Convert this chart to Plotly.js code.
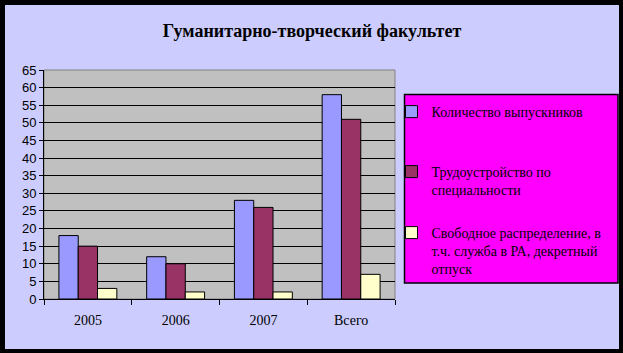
<!DOCTYPE html>
<html><head><meta charset="utf-8">
<script src="https://cdn.plot.ly/plotly-3.0.1.min.js"></script>
<style>
html,body{margin:0;padding:0;background:#000;width:623px;height:353px;overflow:hidden}
#chart{position:absolute;left:5px;top:5px;width:614px;height:344px}
</style></head>
<body><div id="chart"></div>
<script>
const categories = ['2005', '2006', '2007', 'Всего'];
const graduates = [18, 12, 28, 58];
const employed = [15, 10, 26, 51];
const freeDistribution = [3, 2, 2, 7];
const seriesNames = [
  'Количество выпускников',
  'Трудоустройство по<br>специальности',
  'Свободное распределение, в<br>т.ч. служба в РА, декретный<br>отпуск'
];
const yTicks = [0,5,10,15,20,25,30,35,40,45,50,55,60,65];

const colors = ['#9999FF', '#993366', '#FFFFCC'];
const values = [graduates, employed, freeDistribution];
const legends = ['legend', 'legend2', 'legend3'];

const traces = values.map((v, i) => ({
  type: 'bar', x: categories, y: v, name: seriesNames[i],
  marker: {color: colors[i], line: {color: '#000', width: 1}},
  legend: legends[i], hoverinfo: 'none'
}));

const SERIF = '"Liberation Serif", "Times New Roman", serif';
const SANS = '"Liberation Sans", Arial, sans-serif';
const H = 229;
function py(divY){ return (294 - divY) / H; }
const legFont = {family: SERIF, size: 14, color: '#000'};
function leg(yDiv){
  return {x: 0.99, xanchor: 'left', y: py(yDiv), yanchor: 'top', bgcolor: 'rgba(0,0,0,0)',
          borderwidth: 0, font: legFont, valign: 'top', itemclick: false, itemdoubleclick: false};
}

const layout = {
  width: 614, height: 344,
  margin: {l: 39, r: 224, t: 65, b: 50},
  font: {family: SERIF, size: 14, color: '#000'},
  paper_bgcolor: '#CCCCFF', plot_bgcolor: '#C0C0C0',
  title: {text: 'Гуманитарно-творческий факультет', x: 0.5, xanchor: 'center', xref: 'container',
          y: 1 - 26/344, yanchor: 'middle',
          font: {family: SERIF, size: 18, color: '#000', weight: 'bold'}},
  barmode: 'group', bargap: 0.34, bargroupgap: 0,
  xaxis: {type: 'category', showgrid: false, showline: true, linecolor: '#000', linewidth: 1,
          ticks: 'outside', tickson: 'boundaries', ticklen: 5, tickcolor: '#000',
          ticklabelstandoff: 8,
          tickfont: {family: SERIF, size: 14, color: '#000'}},
  yaxis: {range: [0, 65], tickvals: yTicks, showgrid: true, gridcolor: '#000', gridwidth: 1,
          showline: true, linecolor: '#000', linewidth: 1, zeroline: false,
          ticks: 'outside', ticklen: 4, tickcolor: '#000',
          tickfont: {family: SANS, size: 13, color: '#000'}},
  shapes: [
    {type: 'rect', xref: 'paper', yref: 'paper', x0: 0, x1: 1, y0: 0, y1: 1,
     line: {color: '#808080', width: 1}, fillcolor: 'rgba(0,0,0,0)', layer: 'below'},
    {type: 'rect', xref: 'paper', yref: 'paper', x0: (399.5-39)/351, x1: (613-39)/351,
     y0: py(278), y1: py(89.5), line: {color: '#000', width: 1.5}, fillcolor: '#FF00FF', layer: 'below'}
  ],
  legend: leg(91), legend2: leg(151), legend3: leg(212),
  showlegend: true
};

Plotly.newPlot('chart', traces, layout, {displayModeBar: false, staticPlot: true});
</script></body></html>
